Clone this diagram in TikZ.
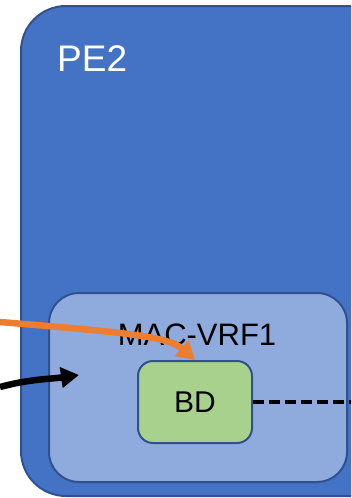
\documentclass[tikz,border=0pt]{standalone}
\usepackage{fontspec}
\setmainfont{Liberation Sans}
\usetikzlibrary{positioning,arrows.meta}

\definecolor{peblue}{HTML}{4472C4}
\definecolor{edgeblue}{HTML}{2F528F}
\definecolor{vrfblue}{HTML}{8FAADC}
\definecolor{bdgreen}{HTML}{A9D18E}
\definecolor{flowor}{HTML}{ED7D31}

\tikzset{
  pebox/.style={draw=edgeblue, fill=peblue, line width=2pt, rounded corners=45pt},
  vrfbox/.style={draw=edgeblue, fill=vrfblue, line width=2pt, rounded corners=30pt},
  bdbox/.style={draw=edgeblue, fill=bdgreen, line width=2pt, rounded corners=15pt,
    font=\fontsize{30}{30}\selectfont},
  flow/.style={line width=6.5pt, -{Triangle[length=18pt, width=20pt]}}
}

\begin{document}
\begin{tikzpicture}[x=1pt, y=-1pt, inner sep=0pt]
    \useasboundingbox (0,0) rectangle (351,498);
    \clip (0,0) rectangle (351,498);

    % Caixas
    \node[pebox, minimum width=400pt, minimum height=490pt] (pe2) at (221,251) {};
    \node[text=white, anchor=base west, font=\fontsize{37}{37}\selectfont] (pe2lbl) at (57,71) {PE2};

    \node[vrfbox, minimum width=298pt, minimum height=189pt] (vrf) at (198,387.5) {};
    \node[anchor=base, font=\fontsize{31}{31}\selectfont] (vrflbl) at (197,345) {MAC-VRF1};

    \node[bdbox, minimum width=114pt, minimum height=82pt] (bd) at (195,402) {BD};

    % Pontos livres
    \coordinate (orsrc) at (0,322);
    \coordinate (blksrc) at (0,387);
    \coordinate (vrfin) at (79,375);
    \coordinate (dashend) at (352,402);

    % Setas
    \draw[flow, flowor] (orsrc) .. controls (120,332) and (168,336) .. (bd.north);
    \draw[flow, black] (blksrc) to[out=15, in=188] (vrfin);

    % Ligacao tracejada
    \draw[line width=3.5pt, dash pattern=on 11pt off 5pt] (bd.east) -- (dashend);

\end{tikzpicture}
\end{document}
